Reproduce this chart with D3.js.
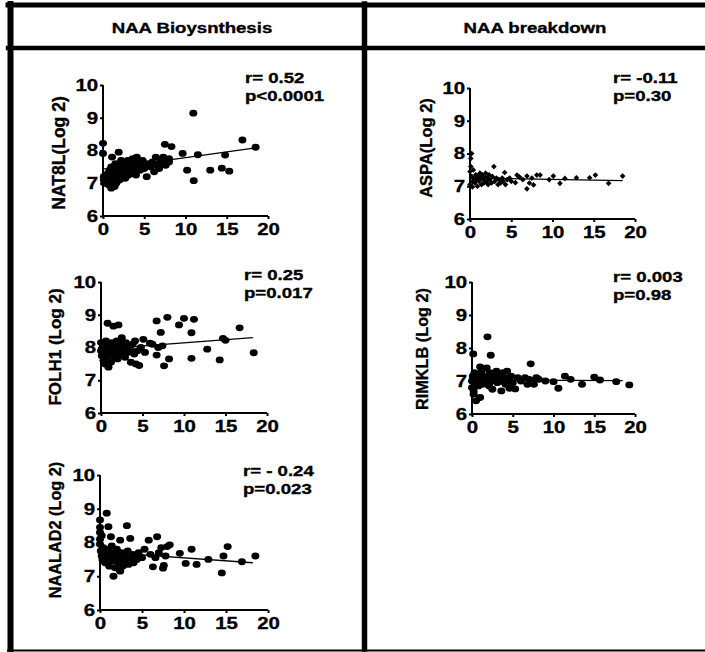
<!DOCTYPE html>
<html>
<head>
<meta charset="utf-8">
<script src="https://cdn.jsdelivr.net/npm/d3@7"></script>
<style>
  body { margin: 0; background: #fff; }
  svg { display: block; }
  text { font-family: "Liberation Sans", Arial, sans-serif; font-weight: bold; fill: #000; stroke: #000; stroke-width: 0.35px; }
</style>
</head>
<body>
<svg id="fig" width="705" height="652"></svg>
<script>
// ---------------------------------------------------------------
// Data
// ---------------------------------------------------------------

const headers = ["NAA Bioysnthesis", "NAA breakdown"];
const xTicks = [0, 5, 10, 15, 20];
const yTicks = [6, 7, 8, 9, 10];

// [x, y] pairs per gene
const nat8l = [
	[0.0, 8.22], [0.0, 7.91], [0.1, 7.2], [0.1, 7.1], [0.2, 7.0], [0.3, 7.25], [0.4, 7.15], [0.5, 7.05],
	[0.6, 7.3], [0.7, 6.95], [0.8, 7.4], [0.9, 7.2], [1.0, 6.85], [1.0, 7.5], [1.1, 7.8], [1.2, 7.1],
	[1.3, 7.35], [1.4, 6.9], [1.5, 7.6], [1.5, 7.2], [1.6, 7.0], [1.7, 7.45], [1.8, 7.25], [1.9, 7.95],
	[2.0, 7.1], [2.0, 7.55], [2.1, 7.35], [2.2, 7.7], [2.3, 7.2], [2.4, 7.45], [2.5, 7.3], [2.6, 7.6],
	[2.7, 7.15], [2.8, 7.5], [2.9, 7.35], [3.0, 7.7], [3.1, 7.25], [3.2, 7.45], [3.4, 7.55], [3.5, 7.3],
	[3.6, 7.75], [3.7, 7.4], [3.9, 7.6], [4.0, 7.25], [4.1, 7.8], [4.2, 7.5], [4.3, 7.65], [4.5, 7.4],
	[4.6, 7.55], [4.8, 7.7], [5.0, 7.45], [5.3, 7.2], [5.5, 7.6], [5.8, 7.5], [6.0, 7.65], [6.2, 7.35],
	[6.4, 7.8], [6.6, 7.55], [6.8, 7.45], [7.0, 7.7], [7.1, 7.6], [7.3, 7.8], [7.5, 8.19], [7.6, 7.55],
	[7.8, 7.7], [8.0, 7.65], [8.3, 8.12], [8.0, 7.75], [9.65, 7.91], [10.2, 7.4], [10.95, 9.14], [11.0, 7.08],
	[11.5, 7.87], [13.0, 7.4], [14.4, 7.46], [14.8, 7.86], [15.3, 7.37], [16.9, 8.32], [18.5, 8.1],
];

const folh1 = [
	[0.0, 8.15], [0.0, 7.9], [0.1, 7.75], [0.2, 8.0], [0.3, 7.6], [0.3, 8.1], [0.4, 7.85], [0.5, 7.5],
	[0.6, 8.2], [0.6, 7.95], [0.7, 7.7], [0.8, 8.74], [0.9, 7.4], [1.0, 8.05], [1.0, 7.8], [1.2, 7.55],
	[1.3, 8.15], [1.4, 7.9], [1.5, 8.65], [1.6, 7.7], [1.7, 8.0], [1.8, 7.85], [1.9, 8.2], [2.0, 7.65],
	[2.1, 8.69], [2.2, 7.95], [2.3, 8.1], [2.4, 7.75], [2.5, 8.3], [2.6, 7.9], [2.8, 8.0], [2.9, 7.7],
	[3.0, 8.15], [3.2, 7.85], [3.3, 8.05], [3.5, 7.95], [3.6, 7.55], [3.8, 8.1], [4.0, 7.8], [4.1, 8.2],
	[4.2, 7.5], [4.4, 7.9], [4.6, 7.45], [4.8, 8.0], [5.1, 8.25], [5.3, 7.85], [5.9, 8.13], [6.2, 8.1],
	[6.7, 8.81], [6.7, 7.77], [6.9, 8.0], [7.2, 8.46], [7.4, 8.05], [7.6, 7.44], [8.0, 8.92], [8.2, 7.65],
	[9.4, 8.69], [10.0, 8.89], [10.9, 8.45], [10.9, 7.67], [11.2, 8.86], [12.8, 7.95], [14.3, 7.62],
	[14.7, 8.28], [15.0, 8.22], [16.7, 8.6], [18.4, 7.84],
];

const naalad2 = [
	[0.0, 8.67], [0.0, 8.45], [0.0, 8.3], [0.0, 8.1], [0.0, 7.95], [0.1, 7.75], [0.2, 7.6], [0.2, 8.2],
	[0.3, 7.5], [0.4, 7.85], [0.5, 7.65], [0.6, 7.4], [0.8, 8.87], [0.9, 7.55], [1.0, 8.47], [1.0, 7.8],
	[1.1, 7.3], [1.2, 7.6], [1.3, 8.17], [1.4, 7.9], [1.5, 7.45], [1.6, 7.0], [1.7, 7.7], [1.8, 7.25],
	[1.9, 7.55], [2.0, 7.8], [2.1, 7.4], [2.2, 7.6], [2.4, 8.07], [2.4, 7.15], [2.5, 7.5], [2.6, 7.7],
	[2.7, 7.3], [2.9, 7.6], [3.0, 7.45], [3.2, 8.5], [3.3, 7.75], [3.4, 7.35], [3.6, 8.12], [3.7, 7.55],
	[3.9, 7.65], [4.0, 7.4], [4.2, 7.6], [4.4, 7.5], [4.6, 7.7], [5.0, 7.55], [5.3, 7.8], [5.8, 8.07],
	[6.0, 7.65], [6.3, 7.28], [6.6, 7.55], [6.8, 8.17], [7.0, 7.7], [7.3, 7.85], [7.5, 7.24], [7.6, 7.32],
	[7.8, 7.6], [8.0, 7.88], [8.3, 7.93], [9.5, 7.68], [10.2, 7.38], [10.9, 7.8], [11.5, 7.35], [12.9, 7.5],
	[14.5, 7.1], [14.7, 7.6], [15.2, 7.88], [16.9, 7.43], [18.5, 7.6],
];

const aspa = [
	[0.0, 7.05], [0.0, 7.45], [0.1, 7.85], [0.2, 8.0], [0.1, 7.6], [0.2, 7.3], [0.3, 7.15], [0.3, 6.98],
	[0.4, 7.5], [0.5, 7.25], [0.6, 7.1], [0.7, 7.35], [0.8, 7.2], [0.9, 7.0], [1.0, 7.3], [1.1, 7.15],
	[1.2, 7.4], [1.3, 7.25], [1.4, 7.05], [1.5, 7.35], [1.6, 7.2], [1.7, 7.1], [1.8, 7.3], [1.9, 7.4],
	[2.0, 7.15], [2.1, 7.25], [2.2, 7.05], [2.3, 7.35], [2.4, 7.2], [2.6, 7.1], [2.7, 7.3], [2.9, 7.6],
	[3.0, 7.15], [3.2, 7.25], [3.4, 7.05], [3.5, 7.2], [3.7, 7.1], [3.9, 7.25], [4.0, 7.15], [4.2, 7.42],
	[4.3, 7.05], [4.5, 7.2], [4.8, 7.25], [5.0, 7.15], [5.5, 7.11], [5.7, 7.34], [6.0, 7.28], [6.4, 7.2],
	[6.9, 6.92], [6.9, 7.31], [7.2, 7.1], [7.5, 7.25], [7.7, 7.04], [8.1, 7.34], [8.5, 7.34], [9.6, 7.2],
	[10.1, 7.31], [10.9, 7.09], [11.5, 7.24], [12.9, 7.26], [14.5, 7.26], [15.2, 7.34], [16.8, 7.09],
	[18.5, 7.31],
];

const rimklb = [
	[0.0, 7.0], [0.0, 6.8], [0.1, 7.15], [0.15, 7.82], [0.2, 6.6], [0.2, 6.7], [0.3, 7.25], [0.4, 6.9],
	[0.5, 6.4], [0.5, 7.05], [0.6, 6.95], [0.7, 7.2], [0.8, 6.85], [0.9, 7.1], [1.0, 6.5], [1.0, 7.43],
	[1.1, 7.0], [1.2, 7.3], [1.3, 6.9], [1.4, 7.15], [1.5, 7.05], [1.6, 6.95], [1.8, 7.4], [1.9, 8.34],
	[2.0, 7.1], [2.1, 6.85], [2.2, 7.25], [2.3, 7.78], [2.4, 7.0], [2.5, 6.75], [2.6, 7.2], [2.8, 7.05],
	[3.0, 7.3], [3.1, 6.95], [3.3, 7.15], [3.5, 7.0], [3.6, 6.7], [3.8, 7.25], [4.0, 7.1], [4.1, 6.9],
	[4.3, 7.3], [4.5, 7.05], [4.6, 6.78], [4.8, 7.15], [5.0, 6.95], [5.3, 6.76], [5.6, 7.1], [6.0, 7.0],
	[6.5, 7.1], [6.8, 6.9], [7.0, 7.05], [7.2, 7.52], [7.4, 7.0], [7.6, 6.9], [7.9, 7.1], [8.2, 7.05],
	[9.0, 7.0], [10.0, 6.98], [10.6, 6.78], [11.4, 7.15], [12.1, 7.05], [13.5, 6.9], [15.0, 7.12],
	[15.7, 7.03], [17.7, 6.98], [19.3, 6.88],
];

// regression line end points [x, y]
const nat8lFit = [[0, 7.43], [18.5, 8.08]];
const folh1Fit = [[0, 7.95], [18.3, 8.3]];
const naalad2Fit = [[0, 7.72], [18.2, 7.4]];
const aspaFit = [[0, 7.25], [18.5, 7.17]];
const rimklbFit = [[0, 7.03], [18.5, 7.01]];

const yLabels = ["NAT8L(Log 2)", "FOLH1 (Log 2)", "NAALAD2 (Log 2)", "ASPA(Log 2)", "RIMKLB (Log 2)"];
const rValues = ["r= 0.52", "r= 0.25", "r= - 0.24", "r= -0.11", "r= 0.003"];
const pValues = ["p<0.0001", "p=0.017", "p=0.023", "p=0.30", "p=0.98"];

// ---------------------------------------------------------------
// Layout (pixel boxes of each plot, title / stat positions)
// ---------------------------------------------------------------

const panels = [
	{ pts: nat8l, fit: nat8lFit, marker: "dot", box: [103, 268, 85, 216], title: [65, 153, 17.5], stat: [245, 83] },
	{ pts: folh1, fit: folh1Fit, marker: "dot", box: [101, 267, 282, 413], title: [61, 347, 17], stat: [244, 280] },
	{ pts: naalad2, fit: naalad2Fit, marker: "dot", box: [100, 268, 475, 610], title: [61, 530, 16.3], stat: [243, 476] },
	{ pts: aspa, fit: aspaFit, marker: "diamond", box: [470, 635, 88, 219], title: [432, 148, 16.5], stat: [613, 83] },
	{ pts: rimklb, fit: rimklbFit, marker: "dot", box: [472, 635, 282, 414], title: [428, 349, 16.3], stat: [613, 282] },
];

const STRETCH = 1.2; // reference text is slightly wide

const svg = d3.select("#fig");

// ---------------------------------------------------------------
// Frame
// ---------------------------------------------------------------

const frame = svg.append("g").attr("stroke", "#000").attr("stroke-linecap", "square");
frame.append("line").attr("x1", 8).attr("x2", 710).attr("y1", 5).attr("y2", 5).attr("stroke-width", 5);
frame.append("line").attr("x1", 8).attr("x2", 710).attr("y1", 48).attr("y2", 48).attr("stroke-width", 4.5);
frame.append("line").attr("x1", 10.5).attr("x2", 10.5).attr("y1", 4).attr("y2", 649).attr("stroke-width", 6);
frame.append("line").attr("x1", 364.5).attr("x2", 364.5).attr("y1", 4).attr("y2", 649).attr("stroke-width", 5.5);
frame.append("line").attr("x1", 8).attr("x2", 710).attr("y1", 650.5).attr("y2", 650.5).attr("stroke-width", 2);

const headerX = [192, 535];
headers.forEach((h, i) => {
	svg.append("text")
		.attr("transform", `translate(${headerX[i]},32.5) scale(${STRETCH},1)`)
		.attr("text-anchor", "middle")
		.style("font-size", "15.5px")
		.text(h);
});

// ---------------------------------------------------------------
// Panels
// ---------------------------------------------------------------

function styleAxis(gEl) {
	gEl.selectAll("line").attr("stroke-width", 2);
	gEl.selectAll("text")
		.attr("transform", `scale(${STRETCH},1)`)
		.style("font-size", "17px")
		.style("font-family", '"Liberation Sans", Arial, sans-serif')
		.style("font-weight", "bold")
		.style("stroke", "#000")
		.style("stroke-width", "0.35px");
}

panels.forEach((p, i) => {
	const [x0, x1, y0, y1] = p.box;
	const xScale = d3.scaleLinear().domain([0, 20]).range([x0, x1]);
	const yScale = d3.scaleLinear().domain([6, 10]).range([y1, y0]);
	const g = svg.append("g");

	// axes
	g.append("g")
		.attr("transform", `translate(0,${y1})`)
		.call(d3.axisBottom(xScale).tickValues(xTicks).tickSize(3).tickPadding(4).tickFormat(d3.format("d")))
		.call((gEl) => {
			gEl.select(".domain").attr("stroke-width", 2).attr("d", `M${x0 - 1},0H${x1}`);
			styleAxis(gEl);
		});

	g.append("g")
		.attr("transform", `translate(${x0},0)`)
		.call(d3.axisLeft(yScale).tickValues(yTicks).tickSize(3).tickPadding(1).tickFormat(d3.format("d")))
		.call((gEl) => {
			gEl.select(".domain").attr("stroke-width", 2).attr("d", `M0,${y0}V${y1 + 1}`);
			styleAxis(gEl);
		});

	// points
	if (p.marker === "diamond") {
		const sym = d3.symbol().type(d3.symbolSquare).size(16);
		g.selectAll("path.pt")
			.data(p.pts)
			.join("path")
			.attr("class", "pt")
			.attr("d", sym)
			.attr("transform", (d) => `translate(${xScale(d[0])},${yScale(d[1])}) rotate(45)`)
			.attr("fill", "#000");
	} else {
		g.selectAll("ellipse")
			.data(p.pts)
			.join("ellipse")
			.attr("cx", (d) => xScale(d[0]))
			.attr("cy", (d) => yScale(d[1]))
			.attr("rx", 4)
			.attr("ry", 3.4)
			.attr("fill", "#000");
	}

	// regression line
	g.append("path")
		.datum(p.fit)
		.attr("fill", "none")
		.attr("stroke", "#000")
		.attr("stroke-width", 1.3)
		.attr("d", d3.line().x((d) => xScale(d[0])).y((d) => yScale(d[1])));

	// y title
	g.append("text")
		.attr("transform", `translate(${p.title[0]},${p.title[1]}) rotate(-90)`)
		.attr("text-anchor", "middle")
		.style("font-size", `${p.title[2]}px`)
		.text(yLabels[i]);

	// r / p
	g.append("text")
		.attr("transform", `translate(${p.stat[0]},${p.stat[1]}) scale(${STRETCH},1)`)
		.style("font-size", "15.5px")
		.text(rValues[i]);
	g.append("text")
		.attr("transform", `translate(${p.stat[0]},${p.stat[1] + 18}) scale(${STRETCH},1)`)
		.style("font-size", "15.5px")
		.text(pValues[i]);
});
</script>
</body>
</html>
